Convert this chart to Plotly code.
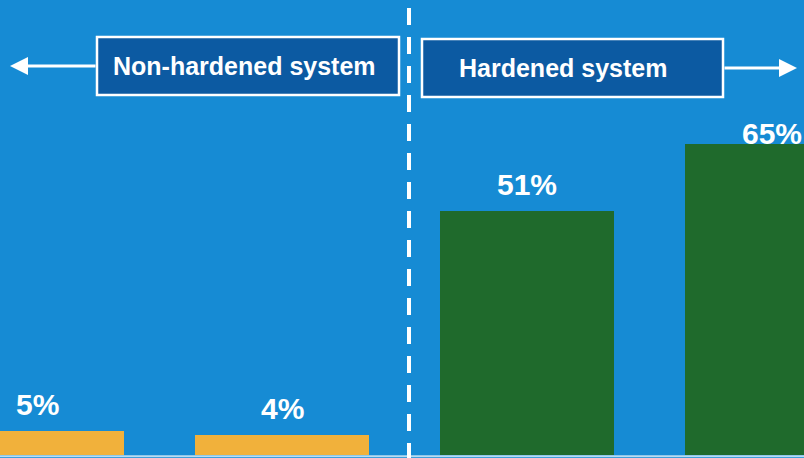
import plotly.graph_objects as go

# ---- data ----
categories = ["Non-hardened 1", "Non-hardened 2", "Hardened 1", "Hardened 2"]
values = [5, 4, 51, 65]
value_labels = ["5%", "4%", "51%", "65%"]
groups = ["Non-hardened", "Non-hardened", "Hardened", "Hardened"]
group_titles = ["Non-hardened system", "Hardened system"]

# ---- style ----
W, H = 804, 458
BG = "#168bd4"
BOX = "#0c5aa2"
YELLOW = "#f1b13b"
GREEN = "#1f6a2c"
group_color = {"Non-hardened": YELLOW, "Hardened": GREEN}
label_shift = [8, 8, 8, -8]
FONT = "Liberation Sans, Arial, Helvetica, sans-serif"

x_idx = list(range(len(categories)))

fig = go.Figure()
fig.add_trace(go.Bar(
    x=x_idx, y=values,
    marker=dict(color=[group_color[g] for g in groups], line=dict(width=0)),
    width=0.71,
    hovertext=categories,
    showlegend=False,
))

def px_x(p):
    return p / W

def px_y(p):
    return 1 - p / H

shapes = []
# baseline light line
shapes.append(dict(type="line", xref="paper", yref="y", x0=0, x1=1, y0=-0.35, y1=-0.35,
                   line=dict(color="#b9dcf2", width=2)))
# divider dashed line
shapes.append(dict(type="line", xref="paper", yref="paper", x0=px_x(409), x1=px_x(409),
                   y0=px_y(8), y1=px_y(458), line=dict(color="white", width=4, dash="17px,12px")))
# group boxes
shapes.append(dict(type="rect", xref="paper", yref="paper", x0=px_x(97), x1=px_x(399),
                   y0=px_y(95), y1=px_y(37), fillcolor=BOX, line=dict(color="white", width=2.5)))
shapes.append(dict(type="rect", xref="paper", yref="paper", x0=px_x(422), x1=px_x(723),
                   y0=px_y(97), y1=px_y(39), fillcolor=BOX, line=dict(color="white", width=2.5)))

annotations = []
# group titles
annotations.append(dict(x=px_x(244), y=px_y(66), xref="paper", yref="paper", text="<b>%s</b>" % group_titles[0],
                        showarrow=False, font=dict(family=FONT, size=25, color="white"),
                        xanchor="center", yanchor="middle"))
annotations.append(dict(x=px_x(563), y=px_y(68), xref="paper", yref="paper", text="<b>%s</b>" % group_titles[1],
                        showarrow=False, font=dict(family=FONT, size=25, color="white"),
                        xanchor="center", yanchor="middle"))
# arrows
annotations.append(dict(x=px_x(10), y=px_y(66), xref="paper", yref="paper", text="",
                        showarrow=True, ax=87, ay=0, arrowhead=2, arrowsize=1.2, arrowwidth=3,
                        arrowcolor="white"))
annotations.append(dict(x=px_x(797), y=px_y(68), xref="paper", yref="paper", text="",
                        showarrow=True, ax=-74, ay=0, arrowhead=2, arrowsize=1.2, arrowwidth=3,
                        arrowcolor="white"))
# value labels
for xi, v, lab, sh in zip(x_idx, values, value_labels, label_shift):
    annotations.append(dict(x=xi, y=v, xref="x", yref="y", text="<b>%s</b>" % lab,
                            showarrow=False, yanchor="bottom", yshift=sh,
                            font=dict(family=FONT, size=30, color="white")))

fig.update_layout(
    width=W, height=H,
    margin=dict(l=0, r=0, t=0, b=0),
    paper_bgcolor=BG, plot_bgcolor=BG,
    xaxis=dict(range=[-0.151, 3.1306], visible=False, fixedrange=True),
    yaxis=dict(range=[-0.733, 95.18], visible=False, fixedrange=True),
    shapes=shapes,
    annotations=annotations,
    bargap=0,
)

fig.write_html("out.html", config={"displayModeBar": False},
               post_script="document.body.style.margin='0';document.body.style.overflow='hidden';")
